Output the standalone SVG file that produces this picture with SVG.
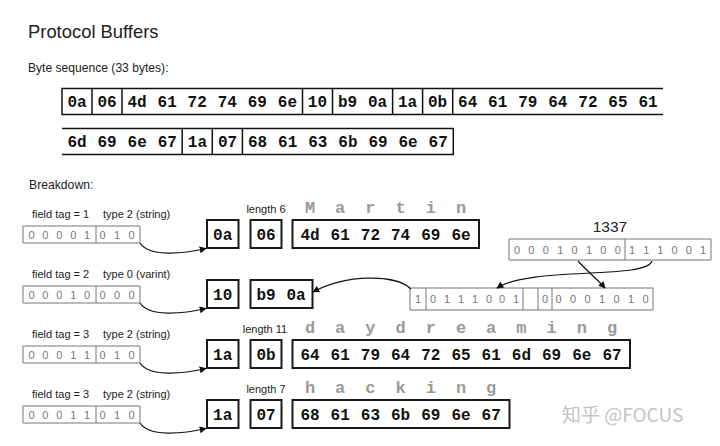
<svg xmlns="http://www.w3.org/2000/svg" width="720" height="446" viewBox="0 0 720 446">
<style>
.sans{font-family:"Liberation Sans",Arial,sans-serif;fill:#222}
.byte{font-family:"Liberation Mono","Courier New",monospace;font-weight:bold;font-size:16px;fill:#111;text-anchor:middle}
.chr{font-family:"Liberation Mono","Courier New",monospace;font-weight:bold;font-size:17px;fill:#9a9a9a;text-anchor:middle}
.bit{font-family:"Liberation Sans",Arial,sans-serif;font-size:11px;fill:#777;text-anchor:middle}
.seq{fill:none;stroke:#111;stroke-width:1.5}
.bx{fill:none;stroke:#1a1a1a;stroke-width:2}
.bb{fill:none;stroke:#777;stroke-width:1}
.lbl{font-family:"Liberation Sans",Arial,sans-serif;font-size:11px;fill:#222}
.len{font-family:"Liberation Sans",Arial,sans-serif;font-size:11px;fill:#222;text-anchor:middle}
.conn{fill:none;stroke:#111;stroke-width:1.2}
</style>
<defs>
<marker id="ah" viewBox="0 0 10 10" refX="9" refY="5" markerWidth="7" markerHeight="7" markerUnits="userSpaceOnUse" orient="auto">
<path d="M0,0 L10,5 L0,10 z" fill="#111"/>
</marker>
</defs>

<text class="sans" x="28" y="38" font-size="18.4">Protocol Buffers</text>
<text class="sans" x="28" y="72" font-size="12.1">Byte sequence (33 bytes):</text>

<g id="seq-row1">
<path class="seq" d="M663,88.5 H62 V114.5 H663 M92,88.5 V114.5 M122,88.5 V114.5 M302.5,88.5 V114.5 M332.5,88.5 V114.5 M392.6,88.5 V114.5 M422.6,88.5 V114.5 M452.7,88.5 V114.5"/>
<text class="byte" y="106.5"><tspan x="77">0a</tspan><tspan x="107">06</tspan><tspan x="137.1">4d</tspan><tspan x="167.2">61</tspan><tspan x="197.2">72</tspan><tspan x="227.3">74</tspan><tspan x="257.3">69</tspan><tspan x="287.4">6e</tspan><tspan x="317.4">10</tspan><tspan x="347.5">b9</tspan><tspan x="377.5">0a</tspan><tspan x="407.6">1a</tspan><tspan x="437.6">0b</tspan><tspan x="467.7">64</tspan><tspan x="497.7">61</tspan><tspan x="527.8">79</tspan><tspan x="557.8">64</tspan><tspan x="587.9">72</tspan><tspan x="617.9">65</tspan><tspan x="648">61</tspan></text>
</g>
<g id="seq-row2">
<path class="seq" d="M62,128.5 H453.3 V154.5 H62 M182.2,128.5 V154.5 M212.3,128.5 V154.5 M242.4,128.5 V154.5"/>
<text class="byte" y="146.5"><tspan x="77">6d</tspan><tspan x="107.1">69</tspan><tspan x="137.2">6e</tspan><tspan x="167.3">67</tspan><tspan x="197.4">1a</tspan><tspan x="227.5">07</tspan><tspan x="257.6">68</tspan><tspan x="287.7">61</tspan><tspan x="317.8">63</tspan><tspan x="347.9">6b</tspan><tspan x="378">69</tspan><tspan x="408.1">6e</tspan><tspan x="438.2">67</tspan></text>
</g>

<text class="sans" x="29" y="189" font-size="12.2">Breakdown:</text>

<!-- Row A -->
<g id="rowA-bits">
<text class="lbl" x="32" y="218">field tag = 1</text>
<text class="lbl" x="103" y="218">type 2 (string)</text>
<path class="bb" d="M23,226 H140 V243 H23 Z M96,226 V243"/>
<text class="bit" y="238.5"><tspan x="31.5">0</tspan><tspan x="45.4">0</tspan><tspan x="59.3">0</tspan><tspan x="73.2">0</tspan><tspan x="87.1">1</tspan><tspan x="102.5">0</tspan><tspan x="117">1</tspan><tspan x="131.5">0</tspan></text>
</g>
<g id="rowA-tag"><rect class="bx" x="207" y="220" width="31.5" height="28"/><text class="byte" x="222.7" y="239.5">0a</text></g>
<g id="rowA-len"><text class="len" x="266" y="213">length 6</text><rect class="bx" x="250.5" y="220" width="31" height="28"/><text class="byte" x="266" y="239.5">06</text></g>
<g id="rowA-data">
<text class="chr" y="213"><tspan x="310">M</tspan><tspan x="340.2">a</tspan><tspan x="370.4">r</tspan><tspan x="400.6">t</tspan><tspan x="430.8">i</tspan><tspan x="461">n</tspan></text>
<rect class="bx" x="292.5" y="220" width="186.5" height="28"/>
<text class="byte" y="239.5"><tspan x="310">4d</tspan><tspan x="340.2">61</tspan><tspan x="370.4">72</tspan><tspan x="400.6">74</tspan><tspan x="430.8">69</tspan><tspan x="461">6e</tspan></text>
</g>

<!-- Row B -->
<g id="rowB-bits">
<text class="lbl" x="32" y="278">field tag = 2</text>
<text class="lbl" x="103" y="278">type 0 (varint)</text>
<path class="bb" d="M23,286 H140 V303 H23 Z M96,286 V303"/>
<text class="bit" y="298.5"><tspan x="31.5">0</tspan><tspan x="45.4">0</tspan><tspan x="59.3">0</tspan><tspan x="73.2">1</tspan><tspan x="87.1">0</tspan><tspan x="102.5">0</tspan><tspan x="117">0</tspan><tspan x="131.5">0</tspan></text>
</g>
<g id="rowB-tag"><rect class="bx" x="207" y="280" width="31.5" height="28"/><text class="byte" x="222.7" y="299.5">10</text></g>
<g id="rowB-data"><rect class="bx" x="250.5" y="280" width="62" height="28"/><text class="byte" y="299.5"><tspan x="266">b9</tspan><tspan x="296">0a</tspan></text></g>

<g id="n1337">
<text class="sans" x="610" y="232" font-size="15.5" text-anchor="middle">1337</text>
<path class="bb" d="M509,239 H711 V260 H509 Z M625,239 V260"/>
<text class="bit" y="253.5"><tspan x="517">0</tspan><tspan x="531.4">0</tspan><tspan x="545.8">0</tspan><tspan x="560.2">1</tspan><tspan x="574.6">0</tspan><tspan x="589">1</tspan><tspan x="603.4">0</tspan><tspan x="617.8">0</tspan><tspan x="632">1</tspan><tspan x="646.2">1</tspan><tspan x="660.4">1</tspan><tspan x="674.6">0</tspan><tspan x="688.8">0</tspan><tspan x="703">1</tspan></text>
</g>
<g id="varint-bits">
<path class="bb" d="M410,288 H653 V310 H410 Z M426,288 V310 M523,288 V310 M538,288 V310 M552,288 V310"/>
<text class="bit" y="303"><tspan x="418">1</tspan><tspan x="433">0</tspan><tspan x="447">1</tspan><tspan x="461">1</tspan><tspan x="475">1</tspan><tspan x="489">0</tspan><tspan x="502">0</tspan><tspan x="516">1</tspan><tspan x="545">0</tspan><tspan x="558.5">0</tspan><tspan x="573">0</tspan><tspan x="587.5">0</tspan><tspan x="602">1</tspan><tspan x="616.5">0</tspan><tspan x="631">1</tspan><tspan x="645.5">0</tspan></text>
</g>

<!-- Row C -->
<g id="rowC-bits">
<text class="lbl" x="32" y="338">field tag = 3</text>
<text class="lbl" x="103" y="338">type 2 (string)</text>
<path class="bb" d="M23,346 H140 V363 H23 Z M96,346 V363"/>
<text class="bit" y="358.5"><tspan x="31.5">0</tspan><tspan x="45.4">0</tspan><tspan x="59.3">0</tspan><tspan x="73.2">1</tspan><tspan x="87.1">1</tspan><tspan x="102.5">0</tspan><tspan x="117">1</tspan><tspan x="131.5">0</tspan></text>
</g>
<g id="rowC-tag"><rect class="bx" x="207" y="340" width="31.5" height="28"/><text class="byte" x="222.7" y="359.5">1a</text></g>
<g id="rowC-len"><text class="len" x="265" y="333">length 11</text><rect class="bx" x="250.5" y="340" width="31" height="28"/><text class="byte" x="266" y="359.5">0b</text></g>
<g id="rowC-data">
<text class="chr" y="333"><tspan x="310">d</tspan><tspan x="340.2">a</tspan><tspan x="370.4">y</tspan><tspan x="400.6">d</tspan><tspan x="430.8">r</tspan><tspan x="461">e</tspan><tspan x="491.2">a</tspan><tspan x="521.4">m</tspan><tspan x="551.6">i</tspan><tspan x="581.8">n</tspan><tspan x="612">g</tspan></text>
<rect class="bx" x="292.5" y="340" width="337.5" height="28"/>
<text class="byte" y="359.5"><tspan x="310">64</tspan><tspan x="340.2">61</tspan><tspan x="370.4">79</tspan><tspan x="400.6">64</tspan><tspan x="430.8">72</tspan><tspan x="461">65</tspan><tspan x="491.2">61</tspan><tspan x="521.4">6d</tspan><tspan x="551.6">69</tspan><tspan x="581.8">6e</tspan><tspan x="612">67</tspan></text>
</g>

<!-- Row D -->
<g id="rowD-bits">
<text class="lbl" x="32" y="398">field tag = 3</text>
<text class="lbl" x="103" y="398">type 2 (string)</text>
<path class="bb" d="M23,406 H140 V423 H23 Z M96,406 V423"/>
<text class="bit" y="418.5"><tspan x="31.5">0</tspan><tspan x="45.4">0</tspan><tspan x="59.3">0</tspan><tspan x="73.2">1</tspan><tspan x="87.1">1</tspan><tspan x="102.5">0</tspan><tspan x="117">1</tspan><tspan x="131.5">0</tspan></text>
</g>
<g id="rowD-tag"><rect class="bx" x="207" y="400" width="31.5" height="28"/><text class="byte" x="222.7" y="419.5">1a</text></g>
<g id="rowD-len"><text class="len" x="266" y="393">length 7</text><rect class="bx" x="250.5" y="400" width="31" height="28"/><text class="byte" x="266" y="419.5">07</text></g>
<g id="rowD-data">
<text class="chr" y="393"><tspan x="310">h</tspan><tspan x="340.2">a</tspan><tspan x="370.4">c</tspan><tspan x="400.6">k</tspan><tspan x="430.8">i</tspan><tspan x="461">n</tspan><tspan x="491.2">g</tspan></text>
<rect class="bx" x="292.5" y="400" width="217" height="28"/>
<text class="byte" y="419.5"><tspan x="310">68</tspan><tspan x="340.2">61</tspan><tspan x="370.4">63</tspan><tspan x="400.6">6b</tspan><tspan x="430.8">69</tspan><tspan x="461">6e</tspan><tspan x="491.2">67</tspan></text>
</g>

<g id="connectors">
<path class="conn" marker-end="url(#ah)" d="M140,243 C149,257 182,254 206,248.5"/>
<path class="conn" marker-end="url(#ah)" d="M140,303 C149,317 182,314 206,308.5"/>
<path class="conn" marker-end="url(#ah)" d="M140,363 C149,377 182,374 206,368.5"/>
<path class="conn" marker-end="url(#ah)" d="M140,423 C149,437 182,434 206,428.5"/>
<path class="conn" marker-end="url(#ah)" d="M578,261 C586,270 597,279 605,288"/>
<path class="conn" marker-end="url(#ah)" d="M652,261 C646,280 530,266 497,288"/>
<path class="conn" marker-end="url(#ah)" d="M411,289 C396,274 346,274 313,292"/>
</g>

<text x="562" y="422" font-family="'Noto Sans CJK SC','Noto Sans',sans-serif" font-size="19" fill="#c4c4c4">知乎 @FOCUS</text>
</svg>
